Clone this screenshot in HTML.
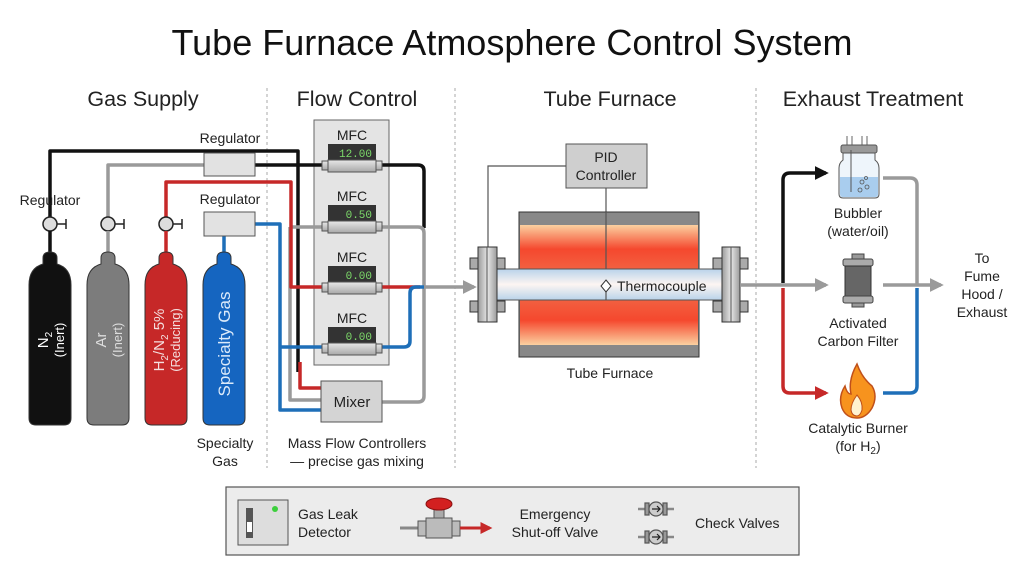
<!DOCTYPE html>
<html><head><meta charset="utf-8"><style>
html,body{margin:0;padding:0;background:#fff;}
svg{display:block;font-family:"Liberation Sans",sans-serif;}
</style></head><body>
<svg width="1024" height="571" viewBox="0 0 1024 571" xmlns="http://www.w3.org/2000/svg">
<defs>
<linearGradient id="heatT" x1="0" y1="0" x2="0" y2="1"><stop offset="0" stop-color="#fbd0a0"/><stop offset="0.55" stop-color="#f5482e"/><stop offset="1" stop-color="#f26040"/></linearGradient>
<linearGradient id="heatB" x1="0" y1="1" x2="0" y2="0"><stop offset="0" stop-color="#fbd0a0"/><stop offset="0.55" stop-color="#f5482e"/><stop offset="1" stop-color="#f26040"/></linearGradient>
<linearGradient id="tube" x1="0" y1="0" x2="0" y2="1"><stop offset="0" stop-color="#b9d3ea"/><stop offset="0.5" stop-color="#fdf5f2"/><stop offset="1" stop-color="#b9d3ea"/></linearGradient>
<linearGradient id="flange" x1="0" y1="0" x2="1" y2="0"><stop offset="0" stop-color="#9a9a9a"/><stop offset="0.5" stop-color="#e6e6e6"/><stop offset="1" stop-color="#9a9a9a"/></linearGradient>
<linearGradient id="mbody" x1="0" y1="0" x2="0" y2="1"><stop offset="0" stop-color="#e8e8e8"/><stop offset="1" stop-color="#a8a8a8"/></linearGradient>
<marker id="aG" viewBox="0 0 10 10" refX="8" refY="5" markerWidth="4" markerHeight="4" orient="auto"><path d="M0 0L10 5L0 10z" fill="#9a9a9a"/></marker>
<marker id="aK" viewBox="0 0 10 10" refX="8" refY="5" markerWidth="4" markerHeight="4" orient="auto"><path d="M0 0L10 5L0 10z" fill="#111"/></marker>
<marker id="aR" viewBox="0 0 10 10" refX="8" refY="5" markerWidth="4" markerHeight="4" orient="auto"><path d="M0 0L10 5L0 10z" fill="#c62828"/></marker>
</defs>
<rect width="1024" height="571" fill="#fff"/>
<text x="512" y="55" font-size="36" text-anchor="middle" fill="#111">Tube Furnace Atmosphere Control System</text>
<g font-size="21.5" text-anchor="middle" fill="#222">
<text x="143" y="106">Gas Supply</text><text x="357" y="106">Flow Control</text>
<text x="610" y="106">Tube Furnace</text><text x="873" y="106">Exhaust Treatment</text></g>
<g stroke="#aaa" stroke-dasharray="3,3" stroke-width="1">
<line x1="267" y1="88" x2="267" y2="468"/><line x1="455" y1="88" x2="455" y2="468"/><line x1="756" y1="88" x2="756" y2="468"/></g>

<rect x="314" y="120" width="75" height="245" fill="#e4e4e4" stroke="#666" stroke-width="1"/>

<g fill="none" stroke-width="3.5" stroke-linejoin="round">
<path d="M50 217V151H298V372" stroke="#111"/>
<path d="M255 165H325M380 165H418Q424 165 424 171V228" stroke="#111"/>
<path d="M108 217V165H204" stroke="#9a9a9a"/>
<path d="M290 227V400H321M290 227H325M380 227H418Q424 227 424 233V287" stroke="#9a9a9a"/>
<path d="M382 402H418Q424 402 424 396V287" stroke="#9a9a9a"/>
<path d="M166 217V182H291V287H325M380 287H420" stroke="#c62828"/>
<path d="M300 362V388H321" stroke="#c62828"/>
<path d="M224 252V236M255 224H280V347H325M280 347V410H321M380 347H404Q410 347 410 341V293Q410 287 416 287H424" stroke="#1e6fb8"/>
<path d="M424 287H474" stroke="#9a9a9a" marker-end="url(#aG)"/>
</g>

<text x="50" y="205" font-size="14" text-anchor="middle" fill="#222">Regulator</text>
<g stroke="#222" stroke-width="1.5" fill="#ddd">
<circle cx="50" cy="224" r="7"/><circle cx="108" cy="224" r="7"/><circle cx="166" cy="224" r="7"/>
<path d="M57 224H66M66 219V229M115 224H124M124 219V229M173 224H182M182 219V229" fill="none"/>
</g>
<g stroke-width="3.5"><line x1="50" y1="231" x2="50" y2="253" stroke="#111"/><line x1="108" y1="231" x2="108" y2="253" stroke="#9a9a9a"/><line x1="166" y1="231" x2="166" y2="253" stroke="#c62828"/></g>
<text x="230" y="143" font-size="14" text-anchor="middle" fill="#222">Regulator</text>
<rect x="204" y="153" width="51" height="23" fill="#e2e2e2" stroke="#555"/>
<text x="230" y="204" font-size="14" text-anchor="middle" fill="#222">Regulator</text>
<rect x="204" y="212" width="51" height="24" fill="#e2e2e2" stroke="#555"/>

<g stroke="#333" stroke-width="1">
<path d="M43 264V258Q43 252 50 252Q57 252 57 258V264Q71 268 71 285V418Q71 425 64 425H36Q29 425 29 418V285Q29 268 43 264Z" fill="#111"/>
<path d="M101 264V258Q101 252 108 252Q115 252 115 258V264Q129 268 129 285V418Q129 425 122 425H94Q87 425 87 418V285Q87 268 101 264Z" fill="#7c7c7c"/>
<path d="M159 264V258Q159 252 166 252Q173 252 173 258V264Q187 268 187 285V418Q187 425 180 425H152Q145 425 145 418V285Q145 268 159 264Z" fill="#c62828"/>
<path d="M217 264V258Q217 252 224 252Q231 252 231 258V264Q245 268 245 285V418Q245 425 238 425H210Q203 425 203 418V285Q203 268 217 264Z" fill="#1565c0"/>
</g>
<g font-size="15" text-anchor="middle">
<text transform="translate(50,340) rotate(-90)" fill="#fff"><tspan x="0" y="-2">N<tspan font-size="10" dy="4">2</tspan></tspan><tspan x="0" y="14" font-size="13">(Inert)</tspan></text>
<text transform="translate(108,340) rotate(-90)" fill="#ddd"><tspan x="0" y="-2">Ar</tspan><tspan x="0" y="14" font-size="13">(Inert)</tspan></text>
<text transform="translate(166,340) rotate(-90)" fill="#f4dede"><tspan x="0" y="-2">H<tspan font-size="10" dy="4">2</tspan><tspan dy="-4">/N</tspan><tspan font-size="10" dy="4">2</tspan><tspan dy="-4"> 5%</tspan></tspan><tspan x="0" y="14" font-size="13">(Reducing)</tspan></text>
<text transform="translate(224,344) rotate(-90)" fill="#dbeafa" font-size="17"><tspan x="0" y="6">Specialty Gas</tspan></text>
</g>
<g font-size="14" text-anchor="middle" fill="#222">
<text x="225" y="448">Specialty</text><text x="225" y="466">Gas</text>
<text x="357" y="448">Mass Flow Controllers</text><text x="357" y="466">— precise gas mixing</text></g>

<g font-size="14" text-anchor="middle" fill="#222">
<text x="352" y="140">MFC</text><text x="352" y="201">MFC</text><text x="352" y="262">MFC</text><text x="352" y="323">MFC</text></g>
<g>
<rect x="328" y="144" width="48" height="18" fill="#333"/><rect x="328" y="205" width="48" height="18" fill="#333"/>
<rect x="328" y="266" width="48" height="18" fill="#333"/><rect x="328" y="327" width="48" height="18" fill="#333"/>
<g font-family="Liberation Mono,monospace" font-size="11" fill="#7ddc6a" text-anchor="end">
<text x="372" y="157">12.00</text><text x="372" y="218">0.50</text><text x="372" y="279">0.00</text><text x="372" y="340">0.00</text></g>
<g fill="url(#mbody)" stroke="#555">
<rect x="328" y="160" width="48" height="12"/><rect x="328" y="221" width="48" height="12"/><rect x="328" y="282" width="48" height="12"/><rect x="328" y="343" width="48" height="12"/>
<rect x="322" y="161" width="6" height="9"/><rect x="376" y="161" width="6" height="9"/>
<rect x="322" y="222" width="6" height="9"/><rect x="376" y="222" width="6" height="9"/>
<rect x="322" y="283" width="6" height="9"/><rect x="376" y="283" width="6" height="9"/>
<rect x="322" y="344" width="6" height="9"/><rect x="376" y="344" width="6" height="9"/></g>
</g>
<rect x="321" y="381" width="61" height="41" fill="#d4d4d4" stroke="#555"/>
<text x="352" y="407" font-size="15" text-anchor="middle" fill="#222">Mixer</text>

<path d="M566 166H488V247M606 188V286" fill="none" stroke="#555" stroke-width="1.2"/>
<rect x="566" y="144" width="81" height="44" fill="#cfcfcf" stroke="#555"/>
<text x="606" y="162" font-size="14" text-anchor="middle" fill="#222">PID</text>
<text x="606" y="180" font-size="14" text-anchor="middle" fill="#222">Controller</text>
<rect x="519" y="212" width="180" height="145" fill="#888" stroke="#333"/>
<rect x="520" y="225" width="178" height="44" fill="url(#heatT)"/>
<rect x="520" y="300" width="178" height="45" fill="url(#heatB)"/>
<line x1="606" y1="212" x2="606" y2="286" stroke="#555" stroke-width="1.2"/>
<rect x="496" y="269" width="228" height="31" fill="url(#tube)" stroke="#555"/>
<line x1="606" y1="291" x2="606" y2="300" stroke="#555" stroke-width="1.2"/>
<path d="M606 280L611 286L606 292L601 286Z" fill="#fff" stroke="#333"/>
<text x="617" y="291" font-size="14" fill="#222">Thermocouple</text>
<g stroke="#333" fill="#aaa">
<rect x="470" y="258" width="35" height="11"/><rect x="470" y="301" width="35" height="11"/>
<rect x="713" y="258" width="35" height="11"/><rect x="713" y="301" width="35" height="11"/>
<rect x="478" y="247" width="19" height="75" fill="url(#flange)"/><rect x="722" y="247" width="18" height="75" fill="url(#flange)"/></g>
<line x1="487" y1="247" x2="487" y2="322" stroke="#555"/><line x1="731" y1="247" x2="731" y2="322" stroke="#555"/>
<text x="610" y="378" font-size="14" text-anchor="middle" fill="#222">Tube Furnace</text>

<g fill="none" stroke-width="3.5" stroke-linejoin="round">
<path d="M740 285H826" stroke="#9a9a9a" marker-end="url(#aG)"/>
<path d="M783 283V180Q783 173 790 173H826" stroke="#111" marker-end="url(#aK)"/>
<path d="M783 288V386Q783 393 790 393H826" stroke="#c62828" marker-end="url(#aR)"/>
<path d="M883 178H910Q917 178 917 185V285" stroke="#9a9a9a"/>
<path d="M883 285H941" stroke="#9a9a9a" marker-end="url(#aG)"/>
<path d="M883 393H910Q917 393 917 386V288" stroke="#1e6fb8"/>
</g>
<path d="M847 136V145M852 136V145M862 136V145M867 136V145" stroke="#999" stroke-width="1.5"/>
<rect x="841" y="145" width="36" height="8" rx="2" fill="#999" stroke="#555"/>
<path d="M843 153H875V160Q879 163 879 168V194Q879 198 875 198H843Q839 198 839 194V168Q839 163 843 160Z" fill="#eef5fb" stroke="#555"/>
<path d="M840 177H878V194Q878 197 875 197H843Q840 197 840 194Z" fill="#a9cdee"/>
<line x1="851" y1="150" x2="851" y2="192" stroke="#555"/>
<g fill="none" stroke="#555" stroke-width="0.8"><circle cx="862" cy="182" r="2"/><circle cx="867" cy="187" r="2"/><circle cx="860" cy="190" r="2"/><circle cx="866" cy="178" r="1.5"/></g>
<text x="858" y="218" font-size="14" text-anchor="middle" fill="#222">Bubbler</text>
<text x="858" y="236" font-size="14" text-anchor="middle" fill="#222">(water/oil)</text>
<rect x="852" y="254" width="12" height="5" fill="#999" stroke="#444"/>
<rect x="843" y="259" width="30" height="7" rx="2" fill="#aaa" stroke="#444"/>
<rect x="845" y="266" width="26" height="30" fill="#666" stroke="#333"/>
<rect x="843" y="296" width="30" height="7" rx="2" fill="#aaa" stroke="#444"/>
<rect x="852" y="303" width="12" height="4" fill="#999" stroke="#444"/>
<text x="858" y="328" font-size="14" text-anchor="middle" fill="#222">Activated</text>
<text x="858" y="346" font-size="14" text-anchor="middle" fill="#222">Carbon Filter</text>
<path d="M857 364Q862 378 872 386Q878 396 872 408Q866 418 857 418Q846 418 842 408Q838 397 845 386Q847 394 851 394Q848 380 857 364Z" fill="#f7931e" stroke="#c0501a" stroke-width="1.5"/>
<path d="M857 395Q863 402 862 410Q860 416 857 416Q852 416 851 410Q851 403 857 395Z" fill="#fff3d0" stroke="#c0501a"/>
<text x="858" y="433" font-size="14" text-anchor="middle" fill="#222">Catalytic Burner</text>
<text x="858" y="451" font-size="14" text-anchor="middle" fill="#222">(for H<tspan font-size="10" dy="3">2</tspan><tspan dy="-3">)</tspan></text>
<g font-size="14" text-anchor="middle" fill="#222">
<text x="982" y="263">To</text><text x="982" y="281">Fume</text><text x="982" y="299">Hood /</text><text x="982" y="317">Exhaust</text></g>

<rect x="226" y="487" width="573" height="68" fill="#ececec" stroke="#555" stroke-width="1.2"/>
<rect x="238" y="500" width="50" height="45" fill="#ddd" stroke="#555"/>
<rect x="246" y="508" width="7" height="30" fill="#555"/><rect x="247" y="522" width="5" height="10" fill="#fff"/>
<circle cx="275" cy="509" r="3" fill="#3ccf3c"/>
<text x="298" y="519" font-size="14" fill="#222">Gas Leak</text><text x="298" y="537" font-size="14" fill="#222">Detector</text>
<line x1="400" y1="528" x2="425" y2="528" stroke="#888" stroke-width="3"/>
<rect x="418" y="521" width="8" height="15" fill="#bbb" stroke="#555"/>
<rect x="426" y="518" width="26" height="20" fill="#bbb" stroke="#555"/>
<rect x="452" y="521" width="8" height="15" fill="#bbb" stroke="#555"/>
<rect x="434" y="509" width="10" height="9" fill="#aaa" stroke="#555"/>
<ellipse cx="439" cy="504" rx="13" ry="6" fill="#d32020" stroke="#8a1010"/>
<path d="M460 528H490" stroke="#c62828" stroke-width="3" marker-end="url(#aR)"/>
<text x="555" y="519" font-size="14" text-anchor="middle" fill="#222">Emergency</text>
<text x="555" y="537" font-size="14" text-anchor="middle" fill="#222">Shut-off Valve</text>
<g stroke="#555" stroke-width="1.2">
<path d="M638 509H674M638 537H674" stroke="#888" stroke-width="2.5"/>
<rect x="645" y="503" width="4" height="12" fill="#999"/><rect x="663" y="503" width="4" height="12" fill="#999"/>
<rect x="645" y="531" width="4" height="12" fill="#999"/><rect x="663" y="531" width="4" height="12" fill="#999"/>
<circle cx="656" cy="509" r="7" fill="#ccc"/><circle cx="656" cy="537" r="7" fill="#ccc"/>
<path d="M652 509H660M657 506L660 509L657 512M652 537H660M657 534L660 537L657 540" fill="none" stroke="#222"/></g>
<text x="695" y="528" font-size="14" fill="#222">Check Valves</text>
</svg>
</body></html>
